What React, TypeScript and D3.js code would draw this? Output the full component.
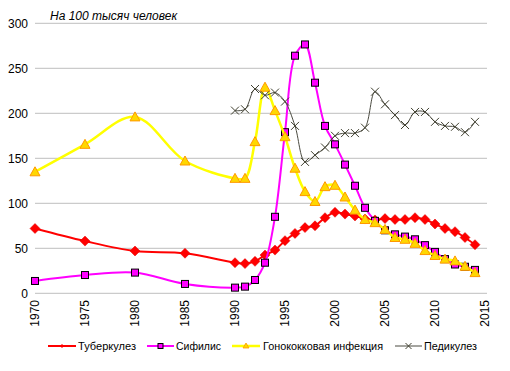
import React, {useEffect, useRef} from 'react';
import * as d3 from 'd3';

const width = 510;
const height = 371;

const yTicks = [0, 50, 100, 150, 200, 250, 300];
const xTicks = [1970, 1975, 1980, 1985, 1990, 1995, 2000, 2005, 2010, 2015];

const yearsEarly = [1970, 1975, 1980, 1985];
const yearsLate = d3.range(1990, 2015);

const tuberculosis = [72, 58, 47, 44.5,
    34, 33, 35.5, 42.5, 48, 58.5, 66.5, 73, 75, 84, 90, 88, 86, 82.5, 81.5, 83, 82, 82, 84, 82, 77, 72, 68.5, 62, 54];
const syphilis = [13.7, 20.3, 23, 10.4,
    6.3, 7.4, 14.8, 34, 85, 179, 264, 276.5, 234, 186, 165.5, 143, 119.5, 95, 80.5, 70, 65.5, 63, 60, 53.5, 46, 38, 32, 29.5, 26];
const gonococcal = [135, 165.5, 196, 147,
    127.7, 127.7, 168.5, 229, 203, 174, 139, 113, 102, 118.5, 120, 107, 92.5, 82, 78.5, 71, 62, 60, 55.5, 47.5, 42, 38, 36, 30, 23];
const pediculosis = [
    203, 204.5, 227, 220, 223, 213, 186, 146, 153.5, 162, 175, 178, 178, 184, 224, 210, 198, 187, 201.5, 201.5, 190.5, 186, 185, 179, 190.5];

const seriesNames = ["Туберкулез", "Сифилис", "Гонококковая инфекция", "Педикулез"];

function App() {
    const svgRef = useRef(null);

    useEffect(() => {
        const svg = d3.select(svgRef.current);
        svg.selectAll("*").remove();

        const x = d3.scaleLinear().domain([1970, 2015]).range([35, 485]);
        const y = d3.scaleLinear().domain([0, 300]).range([293.3, 23.3]);

        // grid
        svg.append("g").selectAll("line")
            .data(yTicks)
            .enter()
            .append("line")
            .attr("x1", 35)
            .attr("x2", 487)
            .attr("y1", d => y(d))
            .attr("y2", d => y(d))
            .attr("stroke", "#bfbfbf")
            .attr("stroke-width", 1);

        svg.append("g").selectAll("text")
            .data(yTicks)
            .enter()
            .append("text")
            .attr("x", 28)
            .attr("y", d => y(d))
            .attr("dy", "0.35em")
            .attr("text-anchor", "end")
            .attr("font-size", 12)
            .text(d => d);

        svg.append("g").selectAll("text")
            .data(xTicks)
            .enter()
            .append("text")
            .attr("transform", d => `translate(${x(d)}, 300) rotate(-90)`)
            .attr("dy", "0.35em")
            .attr("text-anchor", "end")
            .attr("font-size", 12)
            .text(d => d);

        svg.append("text")
            .attr("x", 50)
            .attr("y", 20)
            .attr("font-size", 12)
            .attr("font-style", "italic")
            .text("На 100 тысяч человек");

        const allYears = yearsEarly.concat(yearsLate);
        const series = [
            {values: tuberculosis, years: allYears, color: "#ff0000", width: 2, marker: "diamond"},
            {values: syphilis, years: allYears, color: "#ff00ff", width: 2, marker: "square"},
            {values: gonococcal, years: allYears, color: "#ffff00", width: 2.5, marker: "triangle"},
            {values: pediculosis, years: yearsLate, color: "#4a4a40", width: 1, marker: "cross"}
        ];

        const line = d3.line()
            .x(d => x(d[0]))
            .y(d => y(d[1]))
            .curve(d3.curveCatmullRom.alpha(0.5));

        const drawMarker = (g, marker, px, py) => {
            if (marker === "diamond") {
                g.append("path")
                    .attr("d", `M${px},${py - 5}L${px + 5},${py}L${px},${py + 5}L${px - 5},${py}Z`)
                    .attr("fill", "#ff0000")
                    .attr("stroke", "#e00000")
                    .attr("stroke-width", 0.5);
            } else if (marker === "square") {
                g.append("rect")
                    .attr("x", px - 3.5)
                    .attr("y", py - 3.5)
                    .attr("width", 7)
                    .attr("height", 7)
                    .attr("fill", "#ff00ff")
                    .attr("stroke", "#000")
                    .attr("stroke-width", 1);
            } else if (marker === "triangle") {
                g.append("path")
                    .attr("d", `M${px},${py - 5}L${px + 5},${py + 4}L${px - 5},${py + 4}Z`)
                    .attr("fill", "#ffd700")
                    .attr("stroke", "#ff9900")
                    .attr("stroke-width", 1);
            } else {
                g.append("path")
                    .attr("d", `M${px - 4},${py - 4}L${px + 4},${py + 4}M${px - 4},${py + 4}L${px + 4},${py - 4}`)
                    .attr("stroke", "#404030")
                    .attr("stroke-width", 1);
            }
        };

        series.forEach(s => {
            const pts = s.years.map((yr, i) => [yr, s.values[i]]);
            const g = svg.append("g");
            g.append("path")
                .attr("d", line(pts))
                .attr("fill", "none")
                .attr("stroke", s.color)
                .attr("stroke-width", s.width);
            pts.forEach(p => drawMarker(g, s.marker, x(p[0]), y(p[1])));
        });

        // legend
        const legendItems = [
            {x1: 48, x2: 76, tx: 78, len: 58},
            {x1: 147, x2: 174, tx: 176, len: 45},
            {x1: 232, x2: 260, tx: 263, len: 120},
            {x1: 395, x2: 422, tx: 424, len: 53}
        ];
        const ly = 346;
        legendItems.forEach((item, i) => {
            const s = series[i];
            const g = svg.append("g");
            g.append("line")
                .attr("x1", item.x1)
                .attr("x2", item.x2)
                .attr("y1", ly)
                .attr("y2", ly)
                .attr("stroke", s.color)
                .attr("stroke-width", s.width);
            const cx = (item.x1 + item.x2) / 2;
            if (s.marker === "diamond") {
                g.append("path").attr("d", `M${cx},${ly - 2}L${cx + 2},${ly}L${cx},${ly + 2}L${cx - 2},${ly}Z`).attr("fill", "#ff0000");
            } else if (s.marker === "square") {
                g.append("rect").attr("x", cx - 2.5).attr("y", ly - 2.5).attr("width", 5).attr("height", 5)
                    .attr("fill", "#ff00ff").attr("stroke", "#000").attr("stroke-width", 1);
            } else if (s.marker === "triangle") {
                g.append("path").attr("d", `M${cx},${ly - 3}L${cx + 3},${ly + 2}L${cx - 3},${ly + 2}Z`)
                    .attr("fill", "#ffd700").attr("stroke", "#ff9900").attr("stroke-width", 0.8);
            } else {
                g.append("path").attr("d", `M${cx - 3},${ly - 3}L${cx + 3},${ly + 3}M${cx - 3},${ly + 3}L${cx + 3},${ly - 3}`)
                    .attr("stroke", "#404030").attr("stroke-width", 1);
            }
            g.append("text")
                .attr("x", item.tx)
                .attr("y", ly)
                .attr("dy", "0.35em")
                .attr("font-size", 11.5)
                .attr("textLength", item.len)
                .attr("lengthAdjust", "spacingAndGlyphs")
                .text(seriesNames[i]);
        });
    }, []);

    return (
        <svg
            ref={svgRef}
            width={width}
            height={height}
            style={{position: "absolute", left: 0, top: 0, background: "#fff", fontFamily: "'Liberation Sans', Arial, sans-serif"}}
        />
    );
}

export default App;
